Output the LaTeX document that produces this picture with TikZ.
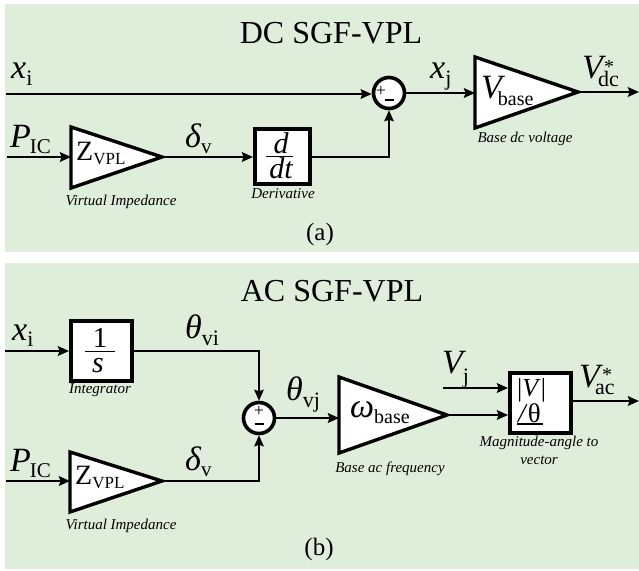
\documentclass[tikz,border=0pt]{standalone}
\usepackage{fontspec}
\setmainfont{Liberation Serif}
\usetikzlibrary{arrows.meta}
\definecolor{panel}{HTML}{DFEEDB}
\newcommand\fs[1]{\fontsize{#1}{#1}\selectfont}
% main symbol, subscript, main size, subscript size, drop
\newcommand\sg[5]{{\fs{#3}\itshape #1}\raisebox{-#5pt}{\fs{#4}#2}}
\tikzset{
  x=1pt,y=-1pt,
  wire/.style={line width=2.3pt,-{Stealth[length=11pt,width=9.5pt,inset=1.5pt]}},
  thinwire/.style={line width=1.8pt,-{Stealth[length=11pt,width=9.5pt,inset=1.5pt]}},
  tri/.style={draw=black,fill=white,line width=3.4pt,line join=miter},
  blockbox/.style={draw=black,fill=white,line width=3.8pt,inner sep=0pt,anchor=north west},
  sumnode/.style={circle,draw=black,fill=white,line width=3.6pt,inner sep=0pt,minimum size=31pt},
  lbl/.style={anchor=base west,inner sep=0pt},
  ctr/.style={anchor=base,inner sep=0pt},
  capt/.style={anchor=base,inner sep=0pt,font=\fs{15}\itshape},
  title/.style={anchor=base,inner sep=0pt,font=\fs{32}},
  subcap/.style={anchor=base,inner sep=0pt,font=\fs{25}},
  sgn/.style={anchor=center,inner sep=0pt,font=\fs{18}},
}
\begin{document}
\begin{tikzpicture}
\useasboundingbox (0,0) rectangle (639,570);
\fill[panel] (5,4) rectangle (639,252);
\fill[panel] (5,263) rectangle (639,569);

%%% (a)
\node[title] (ta) at (331,43) {DC SGF-VPL};
\coordinate (a1) at (6,94);
\coordinate (a2) at (7,157);
\coordinate (aout) at (639,92);
\node[sumnode] (as) at (389,93) {};
\node[sgn] (asp) at (381,91) {+};
\node[sgn] (asm) at (389,100) {\rule{9pt}{1.1pt}};
\coordinate (zaw) at (71,157);
\coordinate (zat) at (71,127);
\coordinate (zab) at (71,188);
\coordinate (zae) at (162,157);
\draw[tri] (zat) -- (zae) -- (zab) -- cycle;
\coordinate (vaw) at (475,92.5);
\coordinate (vat) at (475,57);
\coordinate (vab) at (475,128);
\coordinate (vae) at (578,92);
\draw[tri] (vat) -- (vae) -- (vab) -- cycle;
\node[blockbox,minimum width=55pt,minimum height=55pt] (da) at (253,127) {};
\draw[wire] (a1) -- (as.west |- a1);
\draw[wire] (a2) -- (zaw);
\draw[wire] (zae) -- (da.west |- zae);
\draw[thinwire] (da.east |- zae) -| (as.south);
\draw[wire] (as.east) -- (as.east -| vaw);
\draw[wire] (vae) -- (aout);

\node[lbl] (lx1) at (11,78) {\sg{x}{i}{34}{22}{7}};
\node[lbl] (lp1) at (10,147) {\sg{P}{\kern-1pt IC}{34}{21}{6}};
\node[lbl] (ld1) at (185,147) {\sg{δ}{v}{34}{21}{6}};
\node[lbl] (lz1) at (76,160) {\sg{\upshape Z}{VPL}{28}{17}{4}};
\node[ctr] (dn) at (281,153) {\fs{30}\itshape d};
\draw[line width=0.8pt] (266,156) -- (293,156);
\node[ctr] (dd) at (281,178) {\fs{30}\itshape dt};
\node[lbl] (lv1) at (481,98) {\sg{V}{\kern-4pt base}{34}{20}{7}};
\node[lbl] (lxj) at (430,78) {\sg{x}{j}{34}{22}{7}};
\node[lbl] (lvd) at (582,78) {\fs{34}\itshape V};
\node[lbl] (lvds) at (598,86) {\fs{22}dc};
\node[lbl] (lvdu) at (604,73) {\fs{20}*};
\node[capt] (c1) at (121,205) {Virtual Impedance};
\node[capt] (c2) at (283,198) {Derivative};
\node[capt] (c3) at (525,142) {Base dc voltage};
\node[subcap] (la) at (320,240) {(a)};

%%% (b)
\node[title] (tb) at (332,301) {AC SGF-VPL};
\coordinate (b1) at (5,351);
\coordinate (b2) at (6,481);
\coordinate (b3) at (443,388);
\coordinate (bout) at (639,401);
\node[sumnode] (bs) at (259,418) {};
\node[sgn] (bsp) at (259,411) {+};
\node[sgn] (bsm) at (259,424) {\rule{9pt}{1.1pt}};
\node[blockbox,minimum width=61pt,minimum height=60pt] (ib) at (69,319) {};
\coordinate (zbw) at (70,481);
\coordinate (zbt) at (70,452);
\coordinate (zbb) at (70,512);
\coordinate (zbe) at (162,481);
\draw[tri] (zbt) -- (zbe) -- (zbb) -- cycle;
\coordinate (wbw) at (339,417);
\coordinate (wbt) at (339,377);
\coordinate (wbb) at (339,453);
\coordinate (wbe) at (447,415);
\draw[tri] (wbt) -- (wbe) -- (wbb) -- cycle;
\node[blockbox,minimum width=61pt,minimum height=60pt] (mb) at (508,371) {};
\coordinate (mbu) at (508,388);
\coordinate (mbl) at (508,415);
\draw[wire] (b1) -- (ib.west |- b1);
\draw[thinwire] (ib.east |- b1) -| (bs.north);
\draw[wire] (b2) -- (zbw);
\draw[thinwire] (zbe) -| (bs.south);
\draw[wire] (bs.east) -- (bs.east -| wbw);
\draw[wire] (wbe) -- (mbl);
\draw[wire] (b3) -- (mbu);
\draw[wire] (mb.east |- bout) -- (bout);

\node[lbl] (lx2) at (12,340) {\sg{x}{i}{34}{22}{6}};
\node[lbl] (lp2) at (10,471) {\sg{P}{\kern-1pt IC}{34}{21}{6}};
\node[lbl] (lz2) at (75,484) {\sg{\upshape Z}{VPL}{28}{17}{4}};
\node[lbl] (ld2) at (185,470) {\sg{δ}{v}{34}{21}{6}};
\node[lbl] (lt1) at (185,338) {\sg{θ}{vi}{34}{22}{7}};
\node[lbl] (lt2) at (286,400) {\sg{θ}{vj}{34}{22}{7}};
\node[ctr] (on) at (100,347) {\fs{29}1};
\draw[line width=0.8pt] (85,351) -- (115,351);
\node[ctr] (sn) at (98,372) {\fs{30}\itshape s};
\node[lbl] (lw) at (350,417) {\sg{ω}{base}{34}{20}{6}};
\node[lbl] (lvj) at (442,373) {\sg{V}{j}{34}{22}{10}};
\node[lbl] (lmv) at (517,396) {\fs{26}|\textit{V}|};
\node[lbl] (lma) at (518,422) {\fs{27}\textit{/}θ};
\draw[line width=1.1pt] (517,424) -- (543,424);
\node[lbl] (lva) at (579,387) {\fs{34}\itshape V};
\node[lbl] (lvas) at (595,394) {\fs{22}ac};
\node[lbl] (lvau) at (602,381) {\fs{20}*};
\node[capt] (c4) at (100,393) {Integrator};
\node[capt] (c5) at (121,529) {Virtual Impedance};
\node[capt] (c6) at (390,472) {Base ac frequency};
\node[capt] (c7) at (539,446) {Magnitude-angle to};
\node[capt] (c8) at (539,464) {vector};
\node[subcap] (lb) at (319,555) {(b)};
\end{tikzpicture}
\end{document}
